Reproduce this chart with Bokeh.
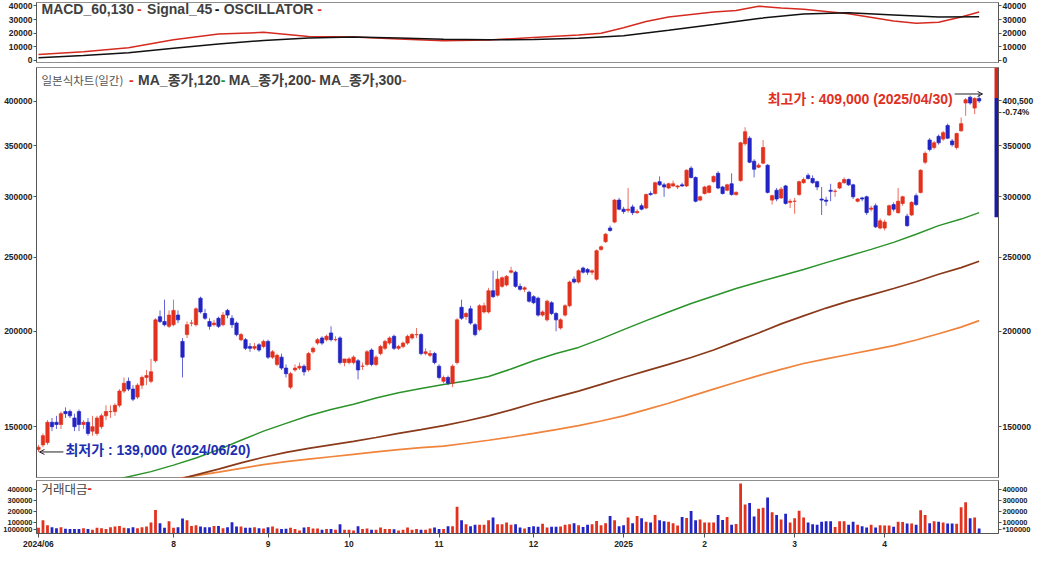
import math
import pandas as pd
from bokeh.plotting import figure
from bokeh.layouts import column
from bokeh.models import (ColumnDataSource, Range1d, LinearAxis, LogAxis, FixedTicker,
                          PrintfTickFormatter, Arrow, OpenHead)
from bokeh.core.properties import value
from bokeh.embed import file_html
from bokeh.resources import INLINE

# ------------------------------------------------------------------ data
first_day = "2024-06-20"
last_day = "2025-04-30"
krx_holidays = ["2024-08-15", "2024-09-16", "2024-09-17", "2024-09-18", "2024-10-01",
                "2024-10-03", "2024-10-09", "2024-12-25", "2024-12-31", "2025-01-01",
                "2025-01-27", "2025-01-28", "2025-01-29", "2025-01-30", "2025-03-03"]

# daily candles, in thousand won
opens = [140, 142, 143, 152, 152, 151, 157, 157, 154, 157,
         151, 152, 148, 147, 150, 155, 157, 157, 160, 167,
         172, 168, 164, 170, 174, 172, 183, 209, 206, 203,
         204, 210, 194, 198, 205, 204, 221, 211, 206, 204,
         208, 204, 213, 208, 205, 195, 195, 191, 190, 192,
         191, 194, 185, 181, 185, 179, 169, 178, 179, 180,
         178, 188, 193, 196, 195, 199, 195, 196, 182, 182,
         182, 183, 180, 181, 189, 181, 187, 190, 193, 197,
         190, 191, 193, 196, 198, 198, 187, 186, 187, 180,
         172, 174, 171, 182, 215, 209, 214, 204, 201, 212,
         212, 226, 223, 229, 230, 239, 239, 229, 227, 225,
         222, 221, 210, 207, 218, 211, 202, 210, 216, 234,
         232, 242, 241, 239, 234, 256, 262, 273, 278, 297,
         289, 288, 291, 286, 292, 290, 303, 303, 314, 311,
         308, 310, 309, 311, 310, 327, 318, 297, 303, 304,
         314, 322, 309, 306, 312, 302, 315, 352, 358, 334,
         328, 332, 330, 297, 306, 299, 310, 295, 296, 302,
         313, 320, 317, 314, 298, 297, 306, 305, 308, 313,
         316, 311, 296, 299, 300, 289, 292, 273, 273, 284,
         293, 286, 294, 283, 284, 301, 304, 333, 356, 348,
         360, 357, 372, 355, 348, 366, 398, 405, 392, 403.5]
highs = [142, 147, 153, 154, 155, 157, 159, 158, 156, 158,
         153, 154, 155, 155, 156, 160, 160, 161, 168, 174,
         174, 170, 171, 175, 178, 184, 208, 213, 220, 213,
         220, 213, 196, 206, 207, 215, 222, 214, 208, 207,
         209, 212, 214, 210, 206, 199, 196, 193, 193, 193,
         195, 195, 189, 187, 187, 181, 177, 181, 182, 181,
         188, 191, 196, 197, 198, 203, 197, 197, 184, 185,
         186, 184, 182, 189, 190, 186, 192, 195, 197, 198,
         192, 194, 198, 199, 202, 199, 190, 189, 188, 181,
         175, 175, 181, 208, 220, 212, 216, 205, 217, 218,
         228, 240, 240, 236, 237, 243, 240, 231, 229, 226,
         223, 222, 213, 220, 219, 212, 208, 217, 233, 236,
         241, 243, 242, 241, 256, 259, 269, 275, 298, 299,
         291, 308, 293, 289, 294, 303, 305, 314, 319, 313,
         313, 315, 311, 313, 326, 329, 319, 301, 310, 311,
         320, 324, 310, 312, 322, 305, 354, 370, 360, 336,
         332, 356, 331, 302, 308, 309, 311, 298, 299, 315,
         318, 322, 320, 315, 309, 300, 312, 307, 314, 318,
         317, 312, 299, 300, 301, 292, 294, 281, 280, 293,
         295, 308, 301, 285, 296, 303, 326, 344, 358, 355,
         362, 366, 374, 357, 364, 381, 404, 407, 405, 409]
lows = [139, 141, 142, 148, 149, 149, 154, 154, 148, 148,
        149, 146, 146, 146, 149, 153, 154, 155, 159, 166,
        167, 162, 163, 168, 170, 171, 182, 205, 203, 202,
        203, 205, 174, 196, 203, 203, 211, 207, 201, 203,
        202, 203, 208, 202, 197, 194, 189, 188, 189, 188,
        190, 184, 184, 180, 178, 174, 168, 177, 178, 175,
        177, 187, 192, 192, 194, 194, 194, 181, 180, 181,
        181, 173, 178, 180, 180, 180, 186, 189, 192, 189,
        189, 190, 192, 195, 196, 186, 186, 185, 181, 173,
        171, 170, 169, 181, 207, 207, 204, 197, 200, 211,
        211, 221, 222, 228, 229, 238, 228, 226, 225, 218,
        217, 209, 209, 206, 210, 200, 201, 209, 215, 231,
        231, 238, 237, 237, 233, 255, 261, 270, 277, 288,
        285, 286, 284, 285, 288, 289, 301, 302, 310, 300,
        307, 309, 307, 309, 309, 317, 295, 296, 302, 303,
        313, 307, 302, 305, 301, 301, 314, 350, 332, 318,
        327, 331, 303, 293, 296, 298, 293, 290, 285, 301,
        312, 316, 312, 306, 284, 292, 296, 300, 307, 312,
        310, 298, 295, 296, 284, 287, 273, 272, 271, 283,
        287, 285, 292, 274, 283, 292, 303, 331, 344, 346,
        351, 355, 357, 349, 346, 365, 383, 396, 385, 398]
closes = [141, 146, 152, 150, 151, 156, 156, 155, 150, 151,
          152, 147, 150, 154, 155, 157, 157, 160, 167, 171,
          168, 163, 170, 174, 175, 177, 207, 206, 204, 210,
          213, 207, 185, 204, 205, 214, 212, 208, 203, 205,
          203, 210, 210, 204, 198, 198, 190, 190, 191, 189,
          194, 185, 188, 186, 179, 176, 176, 179, 180, 177,
          187, 190, 195, 193, 197, 195, 195, 182, 184, 184,
          185, 178, 180, 188, 181, 185, 191, 194, 196, 190,
          191, 193, 197, 198, 198, 187, 188, 187, 182, 174,
          174, 171, 180, 207, 208, 211, 205, 198, 216, 216,
          226, 222, 234, 235, 236, 240, 229, 227, 228, 219,
          218, 210, 212, 219, 211, 207, 207, 216, 232, 232,
          240, 239, 239, 240, 255, 258, 268, 271, 297, 289,
          287, 289, 286, 287, 289, 302, 302, 313, 311, 309,
          312, 312, 310, 310, 325, 318, 296, 300, 309, 310,
          319, 308, 303, 311, 302, 304, 353, 365, 333, 326,
          330, 348, 304, 301, 298, 307, 294, 296, 296, 314,
          316, 317, 313, 309, 297, 296, 305, 305, 313, 316,
          311, 300, 298, 298, 286, 290, 274, 279, 278, 292,
          289, 296, 300, 275, 295, 293, 325, 342, 346, 353,
          353, 364, 358, 351, 363, 374, 402, 398, 403.5, 400.5]
# trading value (거래대금), in thousands of the axis unit
volumes = [50, 120, 72, 55, 45, 55, 40, 37, 37, 37,
           45, 37, 30, 50, 45, 37, 55, 60, 65, 50,
           45, 55, 45, 55, 60, 98, 215, 90, 50, 110,
           50, 55, 135, 118, 65, 72, 62, 55, 55, 65,
           65, 45, 55, 100, 60, 60, 50, 50, 55, 45,
           42, 55, 62, 42, 37, 40, 50, 38, 24, 51,
           56, 43, 43, 30, 38, 38, 30, 82, 30, 30,
           24, 64, 38, 43, 30, 30, 51, 38, 38, 35,
           24, 30, 51, 30, 38, 30, 30, 43, 51, 38,
           38, 64, 64, 244, 118, 83, 64, 78, 78, 78,
           118, 145, 83, 83, 97, 78, 83, 51, 43, 56,
           64, 59, 86, 51, 59, 59, 62, 78, 83, 91,
           72, 56, 78, 83, 113, 72, 91, 158, 118, 64,
           72, 145, 91, 158, 137, 105, 97, 167, 118, 110,
           105, 91, 70, 150, 140, 204, 118, 126, 97, 99,
           99, 167, 121, 150, 78, 85, 459, 266, 279, 153,
           226, 234, 330, 193, 167, 126, 180, 97, 137, 207,
           145, 97, 83, 78, 105, 110, 110, 56, 110, 110,
           78, 105, 78, 64, 51, 78, 51, 72, 70, 70,
           59, 105, 102, 89, 89, 78, 212, 167, 91, 110,
           105, 97, 89, 89, 86, 239, 285, 137, 145, 43]

# moving averages (thousand won), read every 5 trading days
ma_days = [0, 5, 10, 15, 20, 25, 30, 35, 40, 45, 50, 55, 60, 65, 70, 75, 80, 85, 90, 95,
           100, 105, 110, 115, 120, 125, 130, 135, 140, 145, 150, 155, 160, 165, 170, 175,
           180, 185, 190, 195, 200, 205, 209]
ma120 = [121, 123, 125, 127, 129, 131, 133.6, 136.5, 140, 144, 148, 151.5, 155, 158, 160.5,
         163.6, 166.2, 168.3, 170.3, 172.2, 174.5, 178.5, 183, 187, 190.5, 195.5, 201, 206.5,
         212, 217.5, 222.5, 227.5, 232, 236.5, 241, 246, 251, 256, 261.5, 268, 275, 280.5, 286]
ma200 = [117, 118.7, 120.5, 122.2, 124, 125.7, 127.5, 129.7, 132, 134.5, 136.8, 138.8, 140.5,
         142, 143.5, 145.2, 147, 148.7, 150.5, 152.6, 155, 157.8, 161, 164, 167, 170.4, 174,
         177.5, 181, 184.8, 189, 194, 199, 204.5, 209.5, 214.5, 219, 223.2, 227.5, 232.2,
         237.5, 242.3, 247]
ma300 = [121, 122, 123, 124.2, 125.5, 126.8, 128, 129.4, 130.8, 132.3, 133.8, 135, 136, 137,
         138, 139, 140, 140.8, 141.5, 142.7, 144, 145.4, 147, 148.7, 150.5, 152.6, 155, 157.9,
         161, 164.5, 168, 171.5, 175, 178.3, 181.5, 184, 186.5, 189, 191.5, 194.8, 198.5,
         202.5, 206.5]

# MACD(60,130) and signal(45)
macd_days = [0, 10, 20, 30, 40, 50, 60, 70, 80, 90, 100, 110, 120, 125, 130,
             135, 140, 150, 155, 160, 165, 170, 180, 190, 195, 200, 205, 209]
macd = [4400, 6300, 9300, 15200, 19400, 20600, 17600, 17200, 15800, 14500,
        15000, 16900, 18700, 20000, 24000, 28500, 31800, 35500, 36700, 39800,
        38500, 37500, 34300, 29000, 27200, 28000, 31800, 35500]
signal_days = [0, 10, 20, 30, 40, 50, 60, 70, 80, 90, 100, 110,
               120, 130, 140, 150, 160, 170, 180, 190, 200, 209]
signal = [1900, 3700, 5700, 9000, 12000, 14700, 16500, 17200, 16400, 15500, 15100, 15300,
          16200, 18200, 22200, 26400, 30800, 34100, 34900, 33400, 31900, 32100]

price_ticks = [150000, 200000, 250000, 300000, 350000, 400000]
macd_ticks = [0, 10000, 20000, 30000, 40000]
vol_ticks = [100000, 200000, 300000, 400000]

high_text = "최고가 : 409,000 (2025/04/30)"
low_text = "최저가 : 139,000 (2024/06/20)"
high_price = 409000
low_price = 139000
last_price = 400500
last_text = "400,500"
change_price = 387000
change_text = "-0.74%"
vol_unit_left = "1000000"
vol_unit_right = "*100000"

# ------------------------------------------------------------------ setup
dates = [d for d in pd.bdate_range(first_day, last_day) if d.strftime("%Y-%m-%d") not in krx_holidays]
idx = list(range(len(dates)))
K = 1000

RED = "#e2311d"
BLUE = "#2224c4"
GREEN = "#2a932a"
BROWN = "#8a3a1a"
ORANGE = "#f0843c"
FONT = "Liberation Sans"
MIXFONT = "Liberation Sans, Noto Sans CJK KR"
KFONT = "Noto Sans CJK KR"

X0, X1 = -0.44, 213.3
P_LO, P_HI = 128700, 443000
M_LO, M_HI = -1500, 42500
V_LO, V_HI = -4000, 488000

FW = 962
BL, BR = 34, 34


def xd(px):
    return X0 + (px - 40) * (X1 - X0) / 966.0


def yp(py):
    f = (py - 70) / 420.0
    return math.exp(math.log(P_HI) - f * (math.log(P_HI) - math.log(P_LO)))


def ym(py):
    f = (py - 3) / 67.0
    return 42000 - f * (42000 + 200)


def yv(py):
    f = (py - 492) / 61.0
    return V_HI - f * (V_HI - V_LO)


xr = Range1d(X0, X1)


def style_axis(ax, ticks, size="8.5px", overrides=None):
    ax.ticker = FixedTicker(ticks=ticks)
    ax.formatter = PrintfTickFormatter(format="%d")
    if overrides:
        ax.major_label_overrides = overrides
    ax.major_label_text_font = FONT
    ax.major_label_text_font_size = size
    ax.major_label_text_font_style = "bold"
    ax.major_label_text_color = "#222222"
    ax.major_tick_in = 0
    ax.major_tick_out = 3
    ax.minor_tick_line_color = None
    ax.axis_line_color = "#555555"
    ax.major_tick_line_color = "#555555"
    ax.major_label_standoff = 1


def base(p):
    p.xgrid.visible = False
    p.ygrid.visible = False
    p.outline_line_color = "#8f8f8f"
    p.outline_line_width = 1
    p.background_fill_color = "white"
    p.border_fill_color = "white"


# ------------------------------------------------------------------ MACD panel
pA = figure(frame_width=FW, frame_height=60, x_range=xr, y_range=Range1d(M_LO, M_HI),
            output_backend="svg", toolbar_location=None, x_axis_location=None,
            min_border_left=BL, min_border_right=BR, min_border_top=2, min_border_bottom=3)
base(pA)
style_axis(pA.yaxis[0], macd_ticks)
axA = LinearAxis()
style_axis(axA, macd_ticks)
pA.add_layout(axA, "right")
pA.line(macd_days, macd, line_color="#d52a20", line_width=1.5)
pA.line(signal_days, signal, line_color="#111111", line_width=1.5)

yl = ym(9.5)
pA.text(x=[xd(45), xd(151), xd(228)], y=[yl] * 3, text=["MACD_60,130", "Signal_45", "OSCILLATOR"],
        text_font=value(FONT), text_font_size="14px", text_font_style="bold",
        text_color="#404040", text_baseline="middle", text_align="left")
pA.text(x=[xd(141), xd(219), xd(322)], y=[yl] * 3, text=["-", "-", "-"],
        text_font=value(FONT), text_font_size="14px", text_font_style="bold",
        text_color=[RED, "#111111", RED], text_baseline="middle", text_align="left")

# ------------------------------------------------------------------ price panel
pB = figure(frame_width=FW, frame_height=410, x_range=xr, y_range=Range1d(P_LO, P_HI),
            y_axis_type="log", output_backend="svg", toolbar_location=None, x_axis_location=None,
            min_border_left=BL, min_border_right=BR, min_border_top=2, min_border_bottom=1)
base(pB)
style_axis(pB.yaxis[0], price_ticks)
axB = LogAxis()
right_price_ticks = [t for t in price_ticks if t < 400000] + [change_price, last_price]
style_axis(axB, right_price_ticks, overrides={last_price: last_text, change_price: change_text})
pB.add_layout(axB, "right")

colors = [RED if c >= o else BLUE for o, c in zip(opens, closes)]
src = ColumnDataSource(dict(
    x=idx,
    h=[v * K for v in highs],
    l=[v * K for v in lows],
    top=[max(o, c) * K for o, c in zip(opens, closes)],
    bottom=[min(o, c) * K for o, c in zip(opens, closes)],
    color=colors,
))
pB.line(ma_days, [v * K for v in ma300], line_color=ORANGE, line_width=1.7)
pB.line(ma_days, [v * K for v in ma200], line_color=BROWN, line_width=1.7)
pB.line(ma_days, [v * K for v in ma120], line_color=GREEN, line_width=1.5)
pB.segment(x0="x", y0="h", x1="x", y1="l", line_color="color", line_alpha=0.7, line_width=1, source=src)
pB.vbar(x="x", width=0.74, top="top", bottom="bottom", fill_color="color", line_color="color",
        line_width=0.7, source=src)

# current-price bar at the right edge
pB.quad(left=[xd(1002)] * 2, right=[xd(1006)] * 2, top=[P_HI, 404000], bottom=[404000, 282000],
        fill_color=["#d4281c", "#1a1aa6"], line_color=None)

ylp = yp(82.5)
pB.text(x=[xd(45)], y=[ylp], text=["일본식차트(일간)"], text_font=value(KFONT), text_font_size="11.5px",
        text_color="#555555", text_baseline="middle", text_align="left")
pB.text(x=[xd(142), xd(233), xd(324)], y=[ylp] * 3, text=["MA_종가,120", "MA_종가,200", "MA_종가,300"],
        text_font=value(MIXFONT), text_font_size="14px", text_font_style="bold",
        text_color="#404040", text_baseline="middle", text_align="left")
pB.text(x=[xd(133), xd(225), xd(316), xd(407)], y=[ylp] * 4, text=["-", "-", "-", "-"],
        text_font=value(FONT), text_font_size="14px", text_font_style="bold",
        text_color=[RED, GREEN, BROWN, ORANGE], text_baseline="middle", text_align="left")

pB.text(x=[xd(960)], y=[yp(102)], text=[high_text], text_font=value(MIXFONT), text_font_size="14px",
        text_font_style="bold", text_color="#e0301e", text_baseline="middle", text_align="right")
pB.text(x=[xd(69)], y=[yp(462)], text=[low_text], text_font=value(MIXFONT), text_font_size="14px",
        text_font_style="bold", text_color="#1c2fb0", text_baseline="middle", text_align="left")
pB.add_layout(Arrow(end=OpenHead(size=5, line_color="#222222", line_width=1),
                    x_start=xd(962), y_start=high_price, x_end=xd(990), y_end=high_price,
                    line_color="#222222", line_width=1))
pB.add_layout(Arrow(end=OpenHead(size=5, line_color="#222222", line_width=1),
                    x_start=xd(67), y_start=low_price, x_end=xd(43), y_end=low_price,
                    line_color="#222222", line_width=1))

# ------------------------------------------------------------------ volume panel
pC = figure(frame_width=FW, frame_height=53, x_range=xr, y_range=Range1d(V_LO, V_HI),
            output_backend="svg", toolbar_location=None,
            min_border_left=BL, min_border_right=BR, min_border_top=2, min_border_bottom=0)
base(pC)
unit_tick = 30000
style_axis(pC.yaxis[0], [unit_tick] + vol_ticks, size="7.5px", overrides={unit_tick: vol_unit_left})
axC = LinearAxis()
style_axis(axC, [unit_tick] + vol_ticks, size="7.5px", overrides={unit_tick: vol_unit_right})
pC.add_layout(axC, "right")

vsrc = ColumnDataSource(dict(x=idx, v=[v * K for v in volumes], color=colors))
pC.vbar(x="x", width=0.62, top="v", bottom=0, fill_color="color", line_color=None, source=vsrc)

pC.text(x=[xd(45)], y=[yv(501)], text=["거래대금"], text_font=value(KFONT), text_font_size="12.5px",
        text_color="#444444", text_baseline="middle", text_align="left")
pC.text(x=[xd(91)], y=[yv(501)], text=["-"], text_font=value(FONT), text_font_size="14px",
        text_font_style="bold", text_color=RED, text_baseline="middle", text_align="left")

month_ticks, month_labels = [], {}
prev = None
for i, d in enumerate(dates):
    key = (d.year, d.month)
    if key == prev:
        continue
    prev = key
    if d.month == 7:
        continue
    month_ticks.append(i)
    if i == 0:
        month_labels[i] = f"{d.year}/{d.month:02d}"
    elif d.month == 1:
        month_labels[i] = str(d.year)
    else:
        month_labels[i] = str(d.month)

xa = pC.xaxis[0]
xa.ticker = FixedTicker(ticks=month_ticks)
xa.major_label_overrides = month_labels
xa.major_label_text_font = FONT
xa.major_label_text_font_size = "8.5px"
xa.major_label_text_font_style = "bold"
xa.major_label_text_color = "#222222"
xa.major_label_text_align = "left"
xa.major_tick_in = 0
xa.major_tick_out = 4
xa.minor_tick_line_color = None
xa.axis_line_color = "#555555"
xa.major_tick_line_color = "#555555"
xa.major_label_standoff = 1

layout = column(pA, pB, pC, spacing=0)
open("out.html", "w").write(file_html(layout, INLINE))
